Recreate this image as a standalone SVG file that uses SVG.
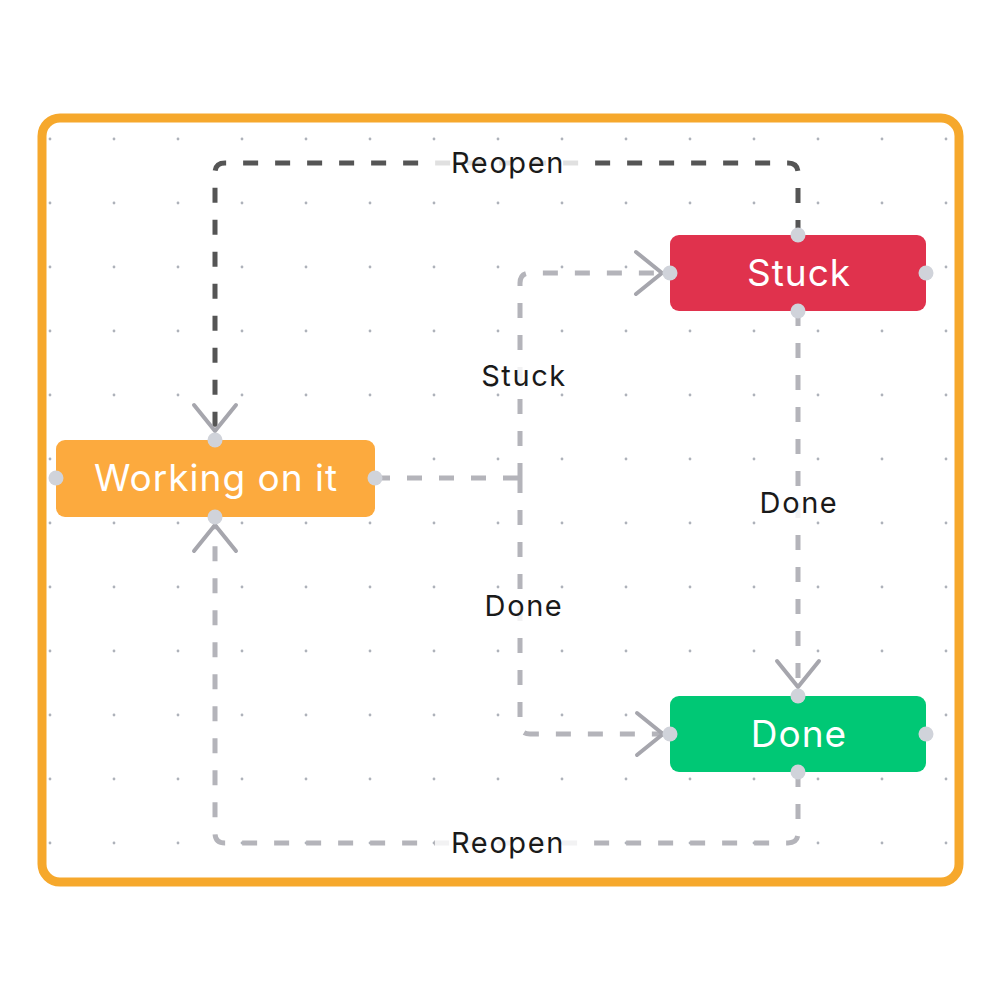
<svg xmlns="http://www.w3.org/2000/svg" width="1000" height="1000" viewBox="0 0 1000 1000">
<defs>
<pattern id="dots" x="0" y="0" width="64" height="64" patternUnits="userSpaceOnUse" patternTransform="translate(50 139)">
<circle cx="0" cy="0" r="1.4" fill="#AEB2BA"/><circle cx="64" cy="0" r="1.4" fill="#AEB2BA"/><circle cx="0" cy="64" r="1.4" fill="#AEB2BA"/><circle cx="64" cy="64" r="1.4" fill="#AEB2BA"/>
</pattern>
<marker id="arr" markerUnits="userSpaceOnUse" markerWidth="60" markerHeight="60" refX="0" refY="0" viewBox="-30 -30 60 60" orient="auto" overflow="visible">
<path d="M -26 -21 L 0 0 L -26 21" fill="none" stroke="#A6A6AD" stroke-width="4" stroke-linecap="round" stroke-linejoin="round"/>
</marker>
<style>
.edge{fill:none;stroke:#B4B4BA;stroke-width:5;stroke-dasharray:15 17}
.dark{stroke:#555555}
.lblbg{fill:#ffffff;fill-opacity:0.82}
.lbl{font-family:Inter,"Liberation Sans",sans-serif;font-size:29px;letter-spacing:1.6px;fill:#1a1a1a;text-anchor:middle}
.ntxt{font-family:Inter,"Liberation Sans",sans-serif;font-size:37px;letter-spacing:1px;fill:#ffffff;text-anchor:middle}
.port{fill:#D0D3DA}
</style>
</defs>
<rect x="0" y="0" width="1000" height="1000" fill="#ffffff"/>
<rect x="42" y="118" width="917" height="764" rx="18" fill="#ffffff" stroke="#F6A82C" stroke-width="9"/>
<rect x="48" y="135" width="902" height="712" fill="url(#dots)"/>
<g id="connectors">
<path class="edge dark" d="M 798 235 V 173 Q 798 163 788 163 H 225 Q 215 163 215 173 V 431" marker-end="url(#arr)"/>
<path class="edge" d="M 375 478 H 520"/>
<path class="edge" d="M 520 478 V 283 Q 520 273 530 273 H 662" marker-end="url(#arr)"/>
<path class="edge" d="M 520 478 V 724 Q 520 734 530 734 H 663" marker-end="url(#arr)"/>
<path class="edge" d="M 798 311 V 687" marker-end="url(#arr)"/>
<path class="edge" d="M 798 772 V 833 Q 798 843 788 843 H 225 Q 215 843 215 833 V 525" marker-end="url(#arr)"/>
<rect class="lblbg" x="435" y="148" width="144" height="30"/>
<text class="lbl" x="508" y="173">Reopen</text>
<rect class="lblbg" x="474" y="361" width="98" height="30"/>
<text class="lbl" x="524" y="386">Stuck</text>
<rect class="lblbg" x="476" y="591" width="94" height="30"/>
<text class="lbl" x="524" y="616">Done</text>
<rect class="lblbg" x="751" y="488" width="94" height="30"/>
<text class="lbl" x="799" y="513">Done</text>
<rect class="lblbg" x="435" y="828" width="144" height="30"/>
<text class="lbl" x="508" y="853">Reopen</text>
</g>
<g id="node-working">
<rect x="56" y="440" width="319" height="77" rx="9" fill="#FCAA3E"/>
<text class="ntxt" x="216" y="491">Working on it</text>
<circle class="port" cx="215" cy="440" r="7.5"/><circle class="port" cx="215" cy="517" r="7.5"/><circle class="port" cx="56" cy="478" r="7.5"/><circle class="port" cx="375" cy="478" r="7.5"/>
</g>
<g id="node-stuck">
<rect x="670" y="235" width="256" height="76" rx="9" fill="#E0324D"/>
<text class="ntxt" x="799" y="286">Stuck</text>
<circle class="port" cx="798" cy="235" r="7.5"/><circle class="port" cx="798" cy="311" r="7.5"/><circle class="port" cx="670" cy="273" r="7.5"/><circle class="port" cx="926" cy="273" r="7.5"/>
</g>
<g id="node-done">
<rect x="670" y="696" width="256" height="76" rx="9" fill="#00C875"/>
<text class="ntxt" x="799" y="747">Done</text>
<circle class="port" cx="798" cy="696" r="7.5"/><circle class="port" cx="798" cy="772" r="7.5"/><circle class="port" cx="670" cy="734" r="7.5"/><circle class="port" cx="926" cy="734" r="7.5"/>
</g>
</svg>
